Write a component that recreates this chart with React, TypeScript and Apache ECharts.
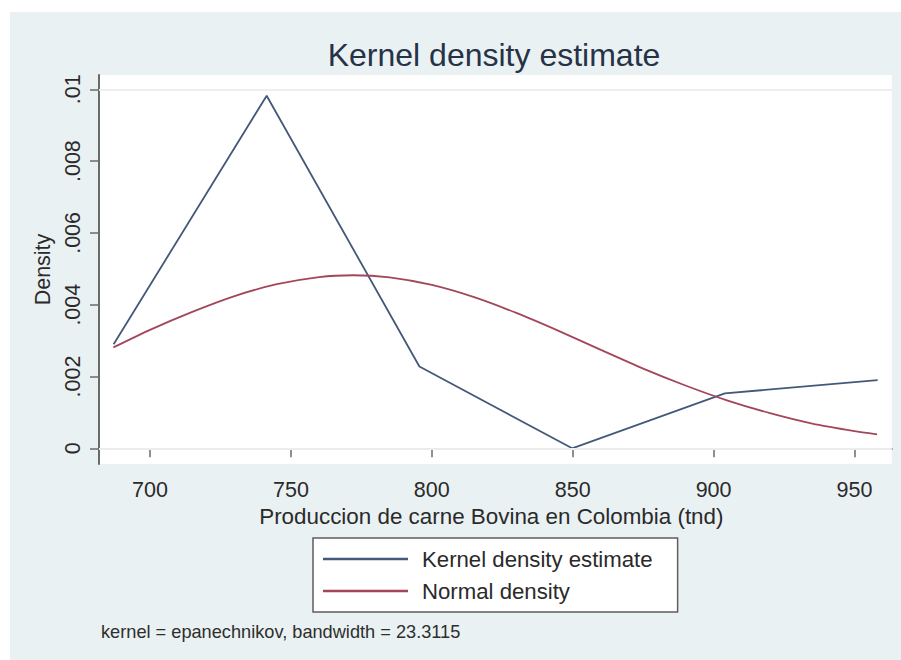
import React, { useEffect, useRef } from "react";
import * as echarts from "echarts";

const titleText = "Kernel density estimate";
const xAxisTitle = "Produccion de carne Bovina en Colombia (tnd)";
const yAxisTitle = "Density";
const noteText = "kernel = epanechnikov, bandwidth = 23.3115";

const xTicks = [700, 750, 800, 850, 900, 950];
const yTicks = [0, 0.002, 0.004, 0.006, 0.008, 0.01];
const yTickLabels = ["0", ".002", ".004", ".006", ".008", ".01"];

const kdeName = "Kernel density estimate";
const kdeX = [687.1, 741.4, 795.6, 849.8, 904.0, 958.2];
const kdeY = [0.0029, 0.00982, 0.00228, 0.0, 0.00153, 0.0019];

const normName = "Normal density";
const normX = [687, 700, 715, 730, 745, 760, 772, 785, 800, 815, 830, 845, 860, 875, 890, 905, 920, 935, 950, 958];
const normY = [0.00281, 0.0033, 0.0038, 0.00424, 0.00457, 0.00477, 0.00482, 0.00476, 0.00455, 0.00421, 0.00377, 0.00327, 0.00274, 0.00222, 0.00175, 0.00133, 0.00098, 0.00069, 0.00048, 0.00039];

const FONT = "'Liberation Sans', Arial, Helvetica, sans-serif";
const BLUE = "#44587a";
const RED = "#a3465a";
const AXIS = "#6a6a6a";
const TEXT = "#2a2a2a";

export default function App() {
  const ref = useRef<HTMLDivElement>(null);

  useEffect(() => {
    if (!ref.current) return;
    const chart = echarts.init(ref.current, undefined, { renderer: "svg" });
    const option: any = {
      animation: false,
      backgroundColor: "#eaf1f3",
      textStyle: { fontFamily: FONT },
      title: [
        {
          text: titleText,
          left: 479,
          top: 22,
          textAlign: "center",
          textStyle: { fontFamily: FONT, fontSize: 32, fontWeight: "normal", color: "#263247" },
        },
        {
          text: noteText,
          left: 91,
          top: 611,
          padding: 0,
          textStyle: { fontFamily: FONT, fontSize: 18.2, fontWeight: "normal", color: "#2e2e2e" },
        },
      ],
      grid: {
        left: 89,
        top: 63,
        right: 9.3,
        bottom: 196,
        show: true,
        backgroundColor: "#ffffff",
        borderWidth: 0,
      },
      legend: {
        data: [kdeName, normName],
        orient: "vertical",
        left: 303,
        top: 526,
        padding: [9, 25, 9, 10],
        icon: "rect",
        itemWidth: 85,
        itemHeight: 2.5,
        itemGap: 8,
        backgroundColor: "#ffffff",
        borderColor: "#5e5e5e",
        borderWidth: 1.5,
        borderRadius: 0,
        textStyle: { fontFamily: FONT, fontSize: 22.2, color: TEXT, lineHeight: 24, padding: [0, 0, 0, 9] },
      },
      xAxis: {
        type: "value",
        min: 681.9,
        max: 963.2,
        name: xAxisTitle,
        nameLocation: "middle",
        nameGap: 34,
        nameTextStyle: { fontFamily: FONT, fontSize: 22.4, color: TEXT, padding: [0, 8, 0, 0] },
        axisLine: { show: true, lineStyle: { color: AXIS, width: 2 } },
        axisTick: { show: true, length: 9, lineStyle: { color: AXIS, width: 1.5 }, customValues: xTicks },
        axisLabel: { fontFamily: FONT, fontSize: 21.5, color: TEXT, margin: 15, customValues: xTicks },
        splitLine: { show: false },
      },
      yAxis: {
        type: "value",
        min: -0.000437,
        max: 0.010398,
        name: yAxisTitle,
        nameLocation: "middle",
        nameRotate: 90,
        nameGap: 43,
        nameTextStyle: { fontFamily: FONT, fontSize: 21.5, color: TEXT },
        axisLine: { show: true, lineStyle: { color: AXIS, width: 2 } },
        axisTick: { show: true, length: 9, lineStyle: { color: AXIS, width: 1.5 }, customValues: yTicks },
        axisLabel: {
          fontFamily: FONT,
          fontSize: 21.5,
          color: TEXT,
          margin: 15,
          rotate: 90,
          customValues: yTicks,
          formatter: (v: number) => {
            const i = yTicks.findIndex((t) => Math.abs(t - v) < 1e-9);
            return i >= 0 ? yTickLabels[i] : "";
          },
        },
        splitLine: { show: false },
      },
      series: [
        {
          name: "grid",
          type: "line",
          data: [],
          z: 1,
          silent: true,
          markLine: {
            silent: true,
            symbol: "none",
            label: { show: false },
            lineStyle: { color: "#ebeff1", width: 1.5, type: "solid" },
            data: yTicks.map((v) => ({ yAxis: v })),
          },
        },
        {
          name: kdeName,
          type: "line",
          data: kdeX.map((x, i) => [x, kdeY[i]]),
          showSymbol: false,
          symbol: "none",
          z: 3,
          lineStyle: { color: BLUE, width: 1.8 },
          itemStyle: { color: BLUE },
        },
        {
          name: normName,
          type: "line",
          data: normX.map((x, i) => [x, normY[i]]),
          showSymbol: false,
          symbol: "none",
          smooth: 0.2,
          z: 3,
          lineStyle: { color: RED, width: 1.8 },
          itemStyle: { color: RED },
        },
      ],
    };
    chart.setOption(option);
    return () => chart.dispose();
  }, []);

  return (
    <div
      ref={ref}
      style={{ position: "absolute", left: 10, top: 12, width: 891, height: 648 }}
    />
  );
}
